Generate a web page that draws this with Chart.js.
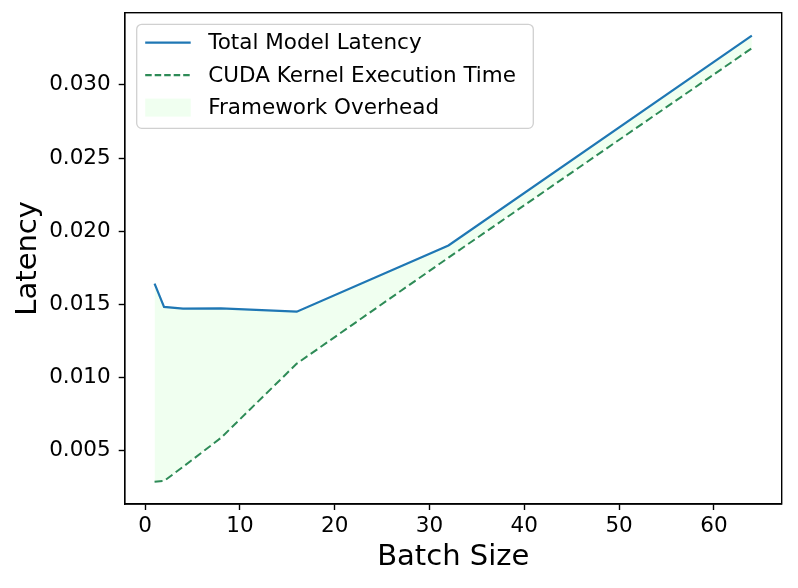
<!DOCTYPE html>
<html>
<head>
<meta charset="utf-8">
<script src="https://cdn.jsdelivr.net/npm/chart.js@4"></script>
<style>
  html, body { margin: 0; padding: 0; background: #ffffff; }
  #wrap { width: 798px; height: 588px; position: relative; }
</style>
</head>
<body>
<div id="wrap"><canvas id="c" width="798" height="588"></canvas></div>
<script>
// ---- data ----
const batchSizes = [1, 2, 4, 8, 16, 32, 64];
const totalLatency = [0.01642, 0.01483, 0.01472, 0.01474, 0.01451, 0.01903, 0.03336];
const cudaKernelTime = [0.00289, 0.00295, 0.00391, 0.00589, 0.01096, 0.01820, 0.03250];
const seriesLabels = ['Total Model Latency', 'CUDA Kernel Execution Time', 'Framework Overhead'];
const xTitle = 'Batch Size';
const yTitle = 'Latency';

const BLUE = '#1f77b4';
const GREEN = '#2e8b57';
const FILL = '#f0fff0';
const FONT = "'DejaVu Sans', sans-serif";

Chart.defaults.font.family = FONT;
Chart.defaults.color = '#000';

const frameAndLegend = {
  id: 'frameAndLegend',
  afterDraw(chart) {
    const ctx = chart.ctx;
    const a = chart.chartArea;
    ctx.save();
    // full axes frame
    ctx.strokeStyle = '#000';
    ctx.lineWidth = 1.4;
    ctx.strokeRect(a.left, a.top, a.right - a.left, a.bottom - a.top);

    // legend box
    const lx = a.left + 12, ly = a.top + 11.6, lw = 396.6, lh = 104, r = 5;
    ctx.beginPath();
    ctx.moveTo(lx + r, ly);
    ctx.lineTo(lx + lw - r, ly);
    ctx.arcTo(lx + lw, ly, lx + lw, ly + r, r);
    ctx.lineTo(lx + lw, ly + lh - r);
    ctx.arcTo(lx + lw, ly + lh, lx + lw - r, ly + lh, r);
    ctx.lineTo(lx + r, ly + lh);
    ctx.arcTo(lx, ly + lh, lx, ly + lh - r, r);
    ctx.lineTo(lx, ly + r);
    ctx.arcTo(lx, ly, lx + r, ly, r);
    ctx.closePath();
    ctx.fillStyle = 'rgba(255,255,255,0.8)';
    ctx.fill();
    ctx.strokeStyle = '#d0d0d0';
    ctx.lineWidth = 1.3;
    ctx.stroke();

    const sx0 = lx + 8.5, sx1 = lx + 54, tx = lx + 71.5;
    const rows = [ly + 18.4, ly + 50.8, ly + 83.3];
    // row 1: solid line
    ctx.strokeStyle = BLUE; ctx.lineWidth = 2.2; ctx.setLineDash([]);
    ctx.beginPath(); ctx.moveTo(sx0, rows[0]); ctx.lineTo(sx1, rows[0]); ctx.stroke();
    // row 2: dashed line
    ctx.strokeStyle = GREEN; ctx.setLineDash([6.5, 3]);
    ctx.beginPath(); ctx.moveTo(sx0, rows[1]); ctx.lineTo(sx1, rows[1]); ctx.stroke();
    ctx.setLineDash([]);
    // row 3: patch
    ctx.fillStyle = FILL;
    ctx.fillRect(sx0, rows[2] - 9, sx1 - sx0, 18);

    ctx.fillStyle = '#000';
    ctx.font = "21.5px " + FONT;
    ctx.textBaseline = 'middle';
    ctx.textAlign = 'left';
    for (let i = 0; i < 3; i++) ctx.fillText(seriesLabels[i], tx, rows[i] + 1);
    ctx.restore();
  }
};

new Chart(document.getElementById('c'), {
  type: 'line',
  data: {
    datasets: [
      {
        label: seriesLabels[0],
        data: batchSizes.map((x, i) => ({ x: x, y: totalLatency[i] })),
        borderColor: BLUE,
        borderWidth: 2.2,
        pointRadius: 0,
        tension: 0,
        fill: '+1',
        backgroundColor: FILL
      },
      {
        label: seriesLabels[1],
        data: batchSizes.map((x, i) => ({ x: x, y: cudaKernelTime[i] })),
        borderColor: GREEN,
        borderWidth: 2.0,
        borderDash: [8, 4],
        pointRadius: 0,
        tension: 0,
        fill: false
      }
    ]
  },
  options: {
    responsive: false,
    animation: false,
    devicePixelRatio: 1,
    layout: { padding: { left: 0, top: 12.7, right: 16.3, bottom: 0 } },
    plugins: {
      legend: { display: false },
      tooltip: { enabled: false },
      filler: { drawTime: 'beforeDatasetsDraw' }
    },
    scales: {
      x: {
        type: 'linear',
        min: -2.15,
        max: 67.15,
        afterFit(s) { s.height = 84; s.paddingLeft = 0; s.paddingRight = 0; },
        ticks: {
          stepSize: 10,
          includeBounds: false,
          autoSkip: false,
          maxRotation: 0,
          padding: 4,
          font: { size: 21.5 },
          color: '#000',
          callback: v => String(Math.round(v))
        },
        grid: { drawOnChartArea: false, drawTicks: true, tickLength: 6, tickColor: '#000', tickWidth: 1.4 },
        border: { display: true, color: '#000', width: 1.4 },
        title: { display: true, text: xTitle, font: { size: 29 }, color: '#000', padding: { top: 0, bottom: 13.6 } }
      },
      y: {
        type: 'linear',
        min: 0.001375,
        max: 0.034925,
        afterFit(s) { s.width = 124.7; s.paddingTop = 0; s.paddingBottom = 0; },
        ticks: {
          stepSize: 0.005,
          includeBounds: false,
          autoSkip: false,
          padding: 8,
          font: { size: 21.5 },
          color: '#000',
          callback: v => Number(v).toFixed(3)
        },
        grid: { drawOnChartArea: false, drawTicks: true, tickLength: 6, tickColor: '#000', tickWidth: 1.4 },
        border: { display: true, color: '#000', width: 1.4 },
        title: { display: true, text: yTitle, font: { size: 29 }, color: '#000', padding: { top: 11, bottom: 0 } }
      }
    }
  },
  plugins: [frameAndLegend]
});
</script>
</body>
</html>
